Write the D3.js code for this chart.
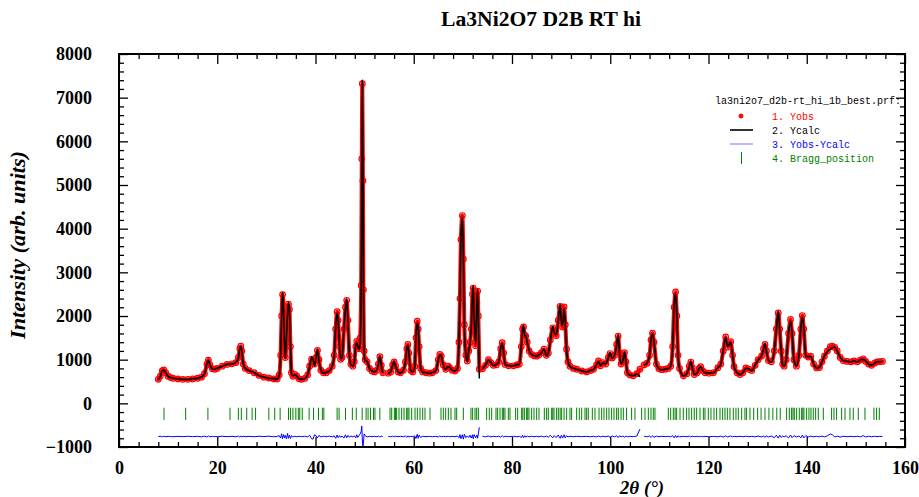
<!DOCTYPE html>
<html lang="en">
<head>
  <meta charset="UTF-8" />
  <title>La3Ni2O7 D2B RT hi</title>
  <script src="https://d3js.org/d3.v7.min.js"></script>
  <style>
    body { margin: 0; background: #fff; }
    svg { display: block; }
    .tick text { font-family: "Liberation Serif", serif; font-weight: bold; font-size: 18px; fill: #000; }
    .tick line { stroke: #000; stroke-width: 1.3px; }
    .domain { display: none; }
    .legend text { font-family: "Liberation Mono", monospace; font-size: 10px; }
  </style>
</head>
<body>
  <script>
    // 2theta positions of the plotted points (null rows = excluded regions)
    const tth = [
      8.0, 8.4, 8.8, 9.1, 9.5, 10.0, 10.5, 11.0, 12.0, 13.0,
      14.0, 15.0, 16.0, 16.8, 17.4, 17.9, 18.2, 18.5, 19.0, 19.5,
      20.0, 21.0, 22.0, 23.0, 23.8, 24.3, 24.6, 24.8, 25.0, 25.3,
      25.7, 26.5, 27.5, 28.5, 29.5, 30.5, 31.5, 32.2, 32.6, 32.9,
      33.1, 33.3, 33.5, 33.7, 33.85, 34.1, 34.3, 34.5, 34.7, 34.9,
      35.1, 35.4, 35.8, 36.2, 36.7, 37.2, 37.8, 38.4, 38.8, 39.2,
      39.5, 39.8, 40.1, 40.4, 40.7, 41.1, 41.6, 42.2, 42.8, 43.4,
      43.8, 44.1, 44.4, 44.6, 44.9, 45.1, 45.4, 45.8, 46.1, 46.35,
      46.6, 46.9, 47.2, 47.6, 47.9, 48.2, 48.4, 48.6, 48.9, 49.1,
      49.3, 49.42, 49.53, 49.65, 49.75, 49.9, 50.1, 50.5, 51.0, 51.5,
      52.0, 52.5, 52.8, 53.1, 53.4, 53.7, 54.25, 54.8, 55.3, 55.7,
      56.0, 56.3, 56.8, 57.3, 57.9, 58.3, 58.6, 58.8, 59.0, 59.4,
      59.8, 60.2, 60.45, 60.7, 60.9, 61.1, 61.4, 61.8, 62.5, 63.2,
      63.8, 64.5, 65.0, 65.3, 65.6, 66.0, 66.5, 67.0, 67.3, 67.8,
      68.4, 68.9, 69.2, 69.4, 69.6, 69.9, 70.1, 70.3, 70.6, 70.9,
      71.2, 71.45, 71.7, 71.95, 72.1, 72.3, 72.6, 72.85, 73.0, 73.15,
      73.35, 73.65, 74.0, 74.6, 75.2, 75.7, 76.2, 76.8, 77.3, 77.7,
      78.0, 78.3, 78.6, 79.3, 80.3, 81.0, 81.5, 81.9, 82.15, 82.35,
      82.6, 82.8, 83.1, 83.5, 84.0, 84.5, 85.0, 85.5, 86.0, 86.5,
      87.0, 87.4, 87.8, 88.3, 88.6, 89.0, 89.4, 89.8, 90.05, 90.3,
      90.6, 90.85, 91.1, 91.4, 91.8, 92.5, 93.2, 94.2, 95.2, 96.0,
      96.6, 97.2, 97.6, 98.0, 98.5, 99.1, 99.6, 99.95, 100.4, 100.9,
      101.3, 101.6, 101.9, 102.2, 102.6, 102.9, 103.2, 103.5, 104.0, 104.7,
      105.4, 106.05, 106.45, 106.9, 107.5, 108.0, 108.3, 108.6, 108.9, 109.4,
      109.9, 110.5, 111.2, 111.8, 112.3, 112.7, 113.0, 113.3, 113.55, 113.8,
      114.1, 114.9, 115.6, 116.1, 116.4, 116.7, 117.1, 117.7, 118.1, 118.4,
      118.8, 119.3, 120.1, 121.0, 121.9, 122.5, 123.0, 123.5, 123.9, 124.5,
      124.9, 125.2, 125.8, 126.4, 127.0, 127.6, 128.2, 128.8, 129.5, 130.1,
      130.8, 131.2, 131.5, 131.8, 132.2, 132.8, 133.4, 133.8, 134.2, 134.5,
      134.8, 135.1, 135.4, 135.8, 136.3, 136.7, 137.0, 137.4, 137.9, 138.4,
      138.8, 139.1, 139.4, 139.8, 140.3, 140.8, 141.4, 142.0, 142.6, 143.1,
      143.6, 144.2, 144.8, 145.2, 145.7, 146.2, 146.8, 147.4, 148.2, 149.0,
      149.6, 150.3, 150.9, 151.5, 152.0, 152.6, 153.2, 153.8, 154.3, 154.8,
      155.4
    ];

    // Observed intensity
    const yobs = [
      549, 620, 740, 765, 700, 620, 590, 575, 560, 550,
      550, 560, 575, 600, 680, 900, 990, 880, 790, 780,
      800, 850, 890, 905, 930, 1050, 1250, 1310, 1200, 900,
      800, 750, 700, 640, 600, 580, 560, 560, 650, 1100,
      2000, 2490, 2200, 1300, 1050, 1500, 2100, 2270, 2150, 1300,
      700, 620, 660, 620, 560, 550, 570, 650, 850, 1010,
      950, 900, 1050, 1210, 1000, 760, 700, 700, 750, 850,
      1100, 1700, 2100, 1900, 1300, 1010, 1050, 1700, 2200, 2360,
      1900, 1100, 900, 850, 950, 1300, 1420, 1300, 1250, 1500,
      2700, 5600, 7320, 5100, 2600, 1200, 1000, 950, 800, 740,
      720, 760, 900, 1070, 870, 700, null, 690, 720, 880,
      950, 850, 720, 700, 760, 950, 1250, 1350, 1150, 750,
      720, 850, 1500, 1880, 1700, 1300, 800, 720, 700, 690,
      700, 750, 1000, 1120, 1080, 880, 780, 850, 820, 760,
      740, 800, 1400, 2400, 3750, 4300, 3300, 1800, 1100, 970,
      1200, 1400, 1700, 2500, 2640, 2000, 1320, 2300, 2570, 2000,
      780, null, 790, 870, 1000, 930, 870, 880, 950, 1250,
      1390, 1150, 890, 860, 860, 880, 900, 1300, 1700, 1750,
      1560, 1540, 1400, 1200, 1120, 1090, 1080, 1110, 1160, 1240,
      1100, 1150, 1450, 1730, 1650, 1550, 1900, 2220, 1900, 1750,
      2210, 1800, 1240, 950, 850, 800, 780, 740, 720, 750,
      780, 880, 970, 860, 930, 900, 1050, 1140, 1040, 1100,
      1350, 1540, 1150, 900, 1000, 1160, 950, 700, 650, 630,
      680, 780, null, 880, 920, 1100, 1450, 1610, 1400, 900,
      790, 770, 780, 800, 850, 1300, 2200, 2550, 2000, 1100,
      800, 630, 680, 850, 945, 820, 660, 700, 800, 840,
      750, 700, 690, 700, 815, 900, 1200, 1520, 1290, 1410,
      1100, 840, 700, 660, 700, 810, 780, 750, 870, 1000,
      1080, 1250, 1350, 1200, 980, 950, 1200, 1700, 2070, 1700,
      1200, 900, 850, 1000, 1600, 1920, 1600, 1000, 850, 1100,
      1700, 2010, 1700, 1100, 1060, 1080, 900, 810, 820, 950,
      1080, 1200, 1300, 1310, 1280, 1200, 1050, 980, 960, 950,
      970, 950, 990, 1020, 960, 900, 870, 920, 950, 955,
      960
    ];

    // Yobs - Ycalc
    const diff = [
      0, 5, -8, 6, -4, 3, 0, -5, 4, -3,
      5, -2, 4, -6, 8, -10, 12, -8, 3, 0,
      -4, 6, -3, 5, -6, 10, -14, 12, -8, 5,
      -3, 4, -5, 6, -2, 8, -6, 5, 20, -35,
      60, -50, 45, -30, 25, -55, 70, -40, 30, -45,
      20, -10, 8, -6, 5, -4, 6, -10, 30, -50,
      -60, 40, 20, -30, 25, -10, 8, -5, 10, -8,
      15, -40, 35, -25, 20, -15, 10, -35, 40, -30,
      25, -15, 10, -8, 15, -30, 40, -20, 30, 60,
      120, 240, -80, -220, -150, 60, 20, -10, 5, -4,
      3, -5, 10, -12, 8, 0, null, 5, -6, 10,
      -8, 6, -4, 5, -6, 12, -18, 15, -10, 6,
      -4, 15, -45, 50, -40, 35, -20, 6, -3, 4,
      -5, 6, -10, 12, -8, 5, -4, 6, -5, 3,
      -4, 10, -30, 45, -50, 40, -60, 50, -25, 15,
      -20, 30, -35, 40, -50, 45, -30, 35, -40, 60,
      210, null, 5, -6, 10, -8, 4, -5, 8, -15,
      20, -12, 6, -4, 5, -6, 4, -20, 25, -30,
      20, -15, 12, -8, 6, -5, 4, -6, 8, -10,
      10, -15, 25, -30, 20, -25, 35, -40, 30, -35,
      40, -30, 20, -10, 6, -4, 5, -3, 4, -5,
      6, -10, 12, -8, 6, -5, 10, -15, 12, -10,
      20, -25, 18, -10, 12, -15, 10, -5, 4, -3,
      10, 170, null, 8, -6, 12, -20, 18, -15, 8,
      -4, 5, -3, 4, -6, 20, -30, 25, -25, 15,
      -6, 4, -5, 8, -10, 8, -4, 5, -6, 6,
      -4, 3, -5, 4, -6, 8, -12, 15, -10, 12,
      -8, 6, -4, 5, -6, 8, -5, 4, -8, 10,
      -10, 15, -20, 15, -8, 10, -25, 30, -35, 30,
      -20, 12, -8, 15, -30, 35, -25, 20, -10, 15,
      -30, 35, -30, 20, -10, 8, -6, 5, -6, 10,
      -8, 15, 60, 40, -10, 8, -12, 6, -4, 5,
      -5, 6, -8, 20, -10, 6, -4, 5, -3, 4,
      0
    ];

    // Bragg reflection positions (2theta)
    const braggPos = [
      9.16, 13.57, 18.1, 22.6, 24.3, 24.9, 26.0, 27.1, 27.8, 30.5, 31.7, 32.8,
      34.5, 34.9, 35.4, 36.0, 36.5, 36.8, 37.3, 38.7, 39.6, 40.6, 41.4, 41.7,
      44.4, 44.8, 46.1, 47.5, 48.3, 49.5, 50.3, 50.7, 51.2, 51.8, 52.1, 53.1,
      55.17, 55.51, 56.05, 56.3, 56.52, 57.0, 57.54, 58.02, 58.56, 58.8, 59.03, 59.58,
      60.26, 60.73, 61.27, 61.82, 62.29, 63.31, 65.55, 66.02, 66.5, 67.04,
      67.58, 68.4, 68.74, 70.09, 71.65, 71.99, 72.47, 72.81, 73.15, 74.84,
      75.38, 75.86, 76.74, 77.08, 77.56, 78.03, 78.3, 78.57, 79.25, 79.59, 80.74,
      81.15, 81.97, 82.2, 82.51, 82.98, 83.2, 83.46, 84.0, 84.48, 85.02, 85.49, 86.58,
      87.05, 87.39, 88.07, 88.3, 88.55, 89.09, 89.43, 89.8, 90.11, 90.6, 91.12, 91.8, 92.14,
      93.16, 93.7, 94.18, 94.86, 95.2, 95.53, 96.35, 96.89, 97.71, 98.25, 98.72,
      99.27, 99.74, 100.28, 100.76, 101.3, 101.64, 102.2, 102.66, 103.33, 104.35,
      105.03, 106.39, 107.07, 107.75, 108.29, 108.76, 109.1, 111.82, 112.3,
      112.84, 113.2, 113.52, 114.2, 114.87, 115.55, 116.03, 116.57, 117.1, 117.59, 118.27,
      118.95, 119.28, 119.96, 120.5, 121.12, 121.66, 122.34, 122.88, 123.35,
      123.83, 124.37, 125.05, 125.59, 126.07, 126.75, 127.42, 127.76, 128.44,
      129.2, 130.0, 130.7, 131.5, 132.3, 133.1, 133.9, 134.6,
      135.9, 136.45, 136.92, 137.2, 137.47, 137.94, 138.48, 138.96, 139.2, 139.43, 139.98,
      140.45, 140.86, 141.33, 141.81, 142.35, 143.37, 145.06, 145.54, 146.08,
      147.1, 147.78, 148.8, 149.47, 150.49, 151.85, 153.68, 154.22, 154.77
    ];

    const xTicks = [0, 20, 40, 60, 80, 100, 120, 140, 160];
    const yTicks = [-1000, 0, 1000, 2000, 3000, 4000, 5000, 6000, 7000, 8000];
    const diffOffset = -760;
    const braggRange = [-100, -380];

    const width = 919, height = 497;
    const svg = d3.select("body").append("svg")
      .attr("width", width)
      .attr("height", height);

    const x = d3.scaleLinear().domain([0, 160]).range([119, 905]);
    const y = d3.scaleLinear().domain([-1000, 8000]).range([447, 54]);

    const rows = tth.map((t, i) => ({
      t: t,
      obs: yobs[i],
      calc: yobs[i] == null ? null : yobs[i] - diff[i],
      d: diff[i]
    }));

    // Bragg ticks
    svg.append("g")
      .selectAll("line")
      .data(braggPos)
      .join("line")
      .attr("x1", d => x(d)).attr("x2", d => x(d))
      .attr("y1", y(braggRange[0])).attr("y2", y(braggRange[1]))
      .attr("stroke", "#008000")
      .attr("stroke-width", 1);

    // Difference curve
    svg.append("path")
      .datum(rows)
      .attr("fill", "none")
      .attr("stroke", "#0000ff")
      .attr("stroke-width", 1)
      .attr("d", d3.line()
        .defined(d => d.d != null)
        .x(d => x(d.t))
        .y(d => y(d.d + diffOffset)));

    // Observed points: red band + circles
    const obsLine = d3.line()
      .defined(d => d.obs != null)
      .x(d => x(d.t))
      .y(d => y(d.obs))
      .curve(d3.curveMonotoneX);

    svg.append("path")
      .datum(rows)
      .attr("fill", "none")
      .attr("stroke", "#ff0000")
      .attr("stroke-width", 4)
      .attr("stroke-linejoin", "round")
      .attr("stroke-linecap", "round")
      .attr("d", obsLine);

    svg.append("g")
      .selectAll("circle")
      .data(rows.filter(d => d.obs != null))
      .join("circle")
      .attr("cx", d => x(d.t))
      .attr("cy", d => y(d.obs))
      .attr("r", 2.8)
      .attr("fill", "none")
      .attr("stroke", "#ff0000")
      .attr("stroke-width", 1.2);

    // Calculated profile
    svg.append("path")
      .datum(rows)
      .attr("fill", "none")
      .attr("stroke", "#000")
      .attr("stroke-width", 1.6)
      .attr("d", d3.line()
        .defined(d => d.calc != null)
        .x(d => x(d.t))
        .y(d => y(d.calc))
        .curve(d3.curveMonotoneX));

    // Axes: major and minor ticks on all four sides, pointing inward
    const xMinor = d3.range(0, 161, 4).filter(v => v % 20 !== 0);
    const yMinor = d3.range(-1000, 8001, 200).filter(v => v % 1000 !== 0);

    svg.append("g")
      .attr("transform", `translate(0,${y(-1000)})`)
      .call(d3.axisBottom(x).tickValues(xTicks).tickSize(-10).tickFormat(d3.format("d")))
      .call(g => g.selectAll("text").attr("y", 0).attr("dy", 27));
    svg.append("g")
      .attr("transform", `translate(0,${y(-1000)})`)
      .call(d3.axisBottom(x).tickValues(xMinor).tickSize(-5).tickFormat(""));
    svg.append("g")
      .attr("transform", `translate(0,${y(8000)})`)
      .call(d3.axisTop(x).tickValues(xTicks).tickSize(-10).tickFormat(""));
    svg.append("g")
      .attr("transform", `translate(0,${y(8000)})`)
      .call(d3.axisTop(x).tickValues(xMinor).tickSize(-5).tickFormat(""));

    svg.append("g")
      .attr("transform", `translate(${x(0)},0)`)
      .call(d3.axisLeft(y).tickValues(yTicks).tickSize(-9).tickPadding(27).tickFormat(d3.format("d")));
    svg.append("g")
      .attr("transform", `translate(${x(0)},0)`)
      .call(d3.axisLeft(y).tickValues(yMinor).tickSize(-5).tickFormat(""));
    svg.append("g")
      .attr("transform", `translate(${x(160)},0)`)
      .call(d3.axisRight(y).tickValues(yTicks).tickSize(-9).tickFormat(""));
    svg.append("g")
      .attr("transform", `translate(${x(160)},0)`)
      .call(d3.axisRight(y).tickValues(yMinor).tickSize(-5).tickFormat(""));

    // Frame
    svg.append("rect")
      .attr("x", x(0)).attr("y", y(8000))
      .attr("width", x(160) - x(0)).attr("height", y(-1000) - y(8000))
      .attr("fill", "none")
      .attr("stroke", "#000")
      .attr("stroke-width", 2);

    // Title and axis labels
    svg.append("text")
      .attr("x", 541).attr("y", 26)
      .attr("text-anchor", "middle")
      .attr("textLength", 200)
      .attr("lengthAdjust", "spacingAndGlyphs")
      .style("font-family", "Liberation Serif, serif")
      .style("font-weight", "bold")
      .style("font-size", "20px")
      .text("La3Ni2O7 D2B RT hi");

    svg.append("text")
      .attr("transform", "translate(25,245) rotate(-90)")
      .attr("text-anchor", "middle")
      .attr("textLength", 188)
      .attr("lengthAdjust", "spacingAndGlyphs")
      .style("font-family", "Liberation Serif, serif")
      .style("font-weight", "bold")
      .style("font-style", "italic")
      .style("font-size", "20px")
      .text("Intensity (arb. units)");

    svg.append("text")
      .attr("x", 642).attr("y", 494)
      .attr("text-anchor", "middle")
      .style("font-family", "Liberation Serif, serif")
      .style("font-weight", "bold")
      .style("font-style", "italic")
      .style("font-size", "19px")
      .text("2θ (°)");

    // Legend
    const legend = svg.append("g").attr("class", "legend");
    legend.append("text")
      .attr("x", 715).attr("y", 104)
      .attr("fill", "#000")
      .text("la3ni2o7_d2b-rt_hi_1b_best.prf:");

    const legendItems = [
      { label: "1. Yobs", color: "#ff0000", kind: "dot", y: 116 },
      { label: "2. Ycalc", color: "#000000", kind: "line", y: 130 },
      { label: "3. Yobs-Ycalc", color: "#0000ff", kind: "line", y: 144 },
      { label: "4. Bragg_position", color: "#008000", kind: "tick", y: 158 }
    ];

    legendItems.forEach(item => {
      if (item.kind === "dot") {
        legend.append("circle")
          .attr("cx", 741).attr("cy", item.y)
          .attr("r", 2).attr("fill", "#ff0000")
          .attr("stroke", "#ff0000").attr("stroke-width", 1);
      } else if (item.kind === "line") {
        legend.append("line")
          .attr("x1", 730).attr("x2", 753)
          .attr("y1", item.y).attr("y2", item.y)
          .attr("stroke", item.color)
          .attr("stroke-width", item.color === "#000000" ? 1.6 : 1)
          .attr("stroke-opacity", item.color === "#000000" ? 1 : 0.55);
      } else {
        legend.append("line")
          .attr("x1", 741.5).attr("x2", 741.5)
          .attr("y1", item.y - 6).attr("y2", item.y + 6)
          .attr("stroke", item.color).attr("stroke-width", 1);
      }
      legend.append("text")
        .attr("x", 772).attr("y", item.y + 3.5)
        .attr("fill", item.color)
        .text(item.label);
    });
  </script>
</body>
</html>
